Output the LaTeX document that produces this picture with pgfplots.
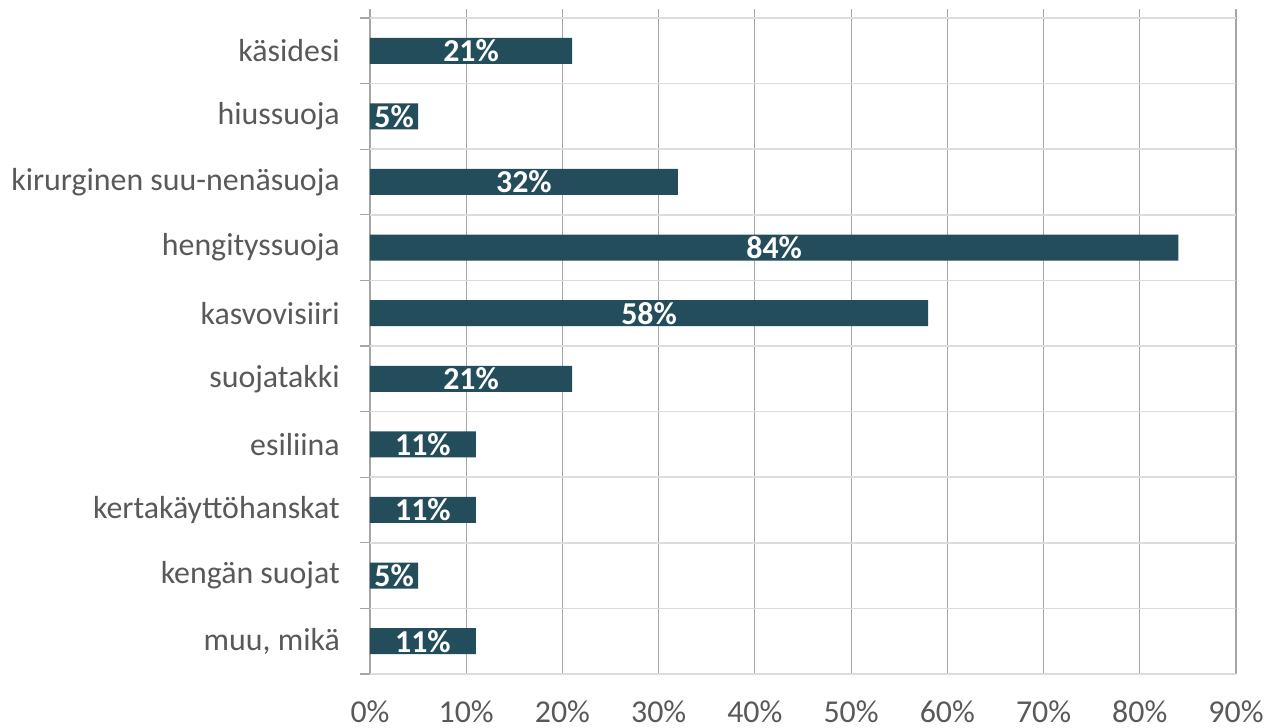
\documentclass[border=0pt]{standalone}
\usepackage{fontspec}
\setmainfont{Carlito}
\usepackage{pgfplots}
\usepackage{pgfplotstable}
\pgfplotsset{compat=1.18}
\definecolor{barc}{HTML}{234D5B}
\definecolor{txt}{HTML}{595959}
\definecolor{vgrid}{HTML}{A6A6A6}
\definecolor{hgrid}{HTML}{DCDCDC}
\pgfplotstableread{
y v
0 11
1 5
2 11
3 11
4 21
5 58
6 84
7 32
8 5
9 21
}\data
\begin{document}
\begin{tikzpicture}
\begin{axis}[
  scale only axis, width=866bp, height=665bp,
  xmin=0, xmax=90, ymin=-0.5, ymax=9.637,
  /pgf/number format/assume math mode=true,
  xtick={0,10,...,90},
  xticklabels={0\%,10\%,20\%,30\%,40\%,50\%,60\%,70\%,80\%,90\%},
  ytick={0,...,9},
  yticklabels={{muu, mikä},kengän suojat,kertakäyttöhanskat,esiliina,suojatakki,kasvovisiiri,hengityssuoja,kirurginen suu-nenäsuoja,hiussuoja,käsidesi},
  minor ytick={-0.5,0.5,...,9.5},
  yminorgrids, xmajorgrids,
  minor grid style={hgrid, line width=1.6bp},
  major grid style={vgrid, line width=1.2bp},
  xtick pos=bottom, ytick pos=left,
  tick align=outside,
  major tick length=0pt, minor tick length=10bp,
  minor tick style={vgrid, line width=1.2bp},
  axis line style={draw=none},
  ticklabel style={font=\fontsize{32}{38}\selectfont, text=txt},
  xticklabel style={anchor=north, inner sep=0pt, yshift=-27bp},
  yticklabel style={anchor=east, inner sep=0pt, xshift=-30bp},
  clip=false,
]
\addplot[xbar, bar width=26bp, bar shift=0pt, fill=barc, draw=none] table[x=v, y=y] {\data};
\addplot[draw=none, mark=none, nodes near coords={\pgfmathprintnumber{\pgfplotspointmeta}\%}, point meta=explicit,
  nodes near coords style={anchor=center, text=white, font=\bfseries\fontsize{32}{38}\selectfont}]
  table[x expr=\thisrow{v}/2, y=y, meta=v] {\data};
\end{axis}
\pgfresetboundingbox
\useasboundingbox (-370bp,-54bp) rectangle (898bp,674bp);
\end{tikzpicture}
\end{document}
